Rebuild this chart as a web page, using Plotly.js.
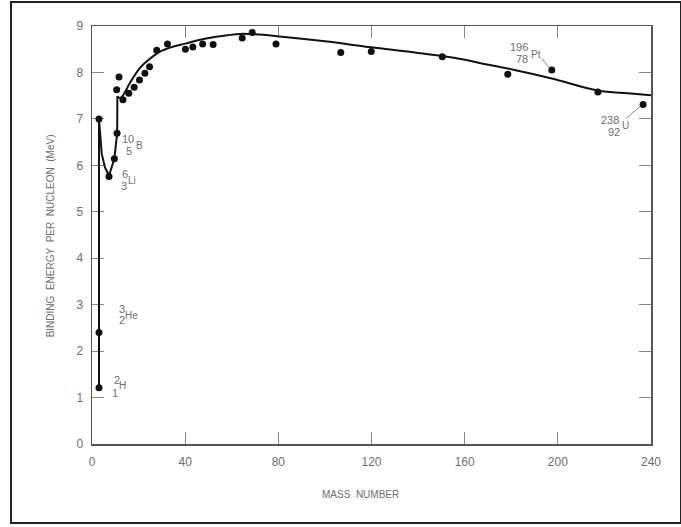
<!DOCTYPE html>
<html>
<head>
<meta charset="utf-8">
<script src="https://cdn.plot.ly/plotly-3.0.1.min.js"></script>
<style>
html,body{margin:0;padding:0;background:#fff;}
#chart{width:681px;height:527px;}
</style>
</head>
<body>
<div id="chart"></div>
<script>
// Measured nuclei (mass number, binding energy per nucleon in MeV)
var massNumber = [3, 3, 3, 7.3, 9.6, 10.75, 10.6, 11.6, 13.3, 15.8, 18.1, 20.4, 22.7, 24.7, 27.8, 32.4, 40.1, 43.3, 47.5, 52.0, 64.5, 68.8, 79.0, 106.8, 119.9, 150.4, 178.5, 197.4, 217.2, 236.6];
var bindingEnergy = [1.21, 2.40, 7.0, 5.76, 6.14, 6.69, 7.63, 7.90, 7.41, 7.55, 7.68, 7.84, 7.98, 8.12, 8.48, 8.61, 8.50, 8.55, 8.61, 8.60, 8.74, 8.86, 8.61, 8.43, 8.45, 8.34, 7.96, 8.05, 7.58, 7.31];

// Trend curve: light-nuclei part (straight pieces)
var lightA = [3, 3, 3.4, 4.2, 5.6, 7.3, 9.6, 10.8, 10.9];
var lightE = [1.2, 7.0, 6.74, 6.24, 5.95, 5.78, 6.14, 6.69, 7.49];
// smooth part
var curveA = [10.9, 12, 13.5, 16, 20.6, 25, 29.2, 35, 40.1, 46, 52, 58, 63.7, 70, 79.4, 100, 119.9, 140, 158.3, 166.9, 180, 197.4, 217.2, 230, 240];
var curveE = [7.49, 7.45, 7.52, 7.75, 8.10, 8.30, 8.45, 8.56, 8.62, 8.70, 8.76, 8.80, 8.83, 8.82, 8.78, 8.67, 8.54, 8.42, 8.29, 8.20, 8.07, 7.87, 7.61, 7.55, 7.51];

// Axis ticks
var xTicks = [0, 40, 80, 120, 160, 200, 240];
var yTicks = [0, 1, 2, 3, 4, 5, 6, 7, 8, 9];

// Nuclide labels
var labelSym  = ['H', 'He', 'Li', 'B', 'Pt', 'U'];
var labelMass = ['2', '3', '6', '10', '196', '238'];
var labelZ    = ['1', '2', '3', '5', '78', '92'];
// label placement (layout only)
var symPos  = [[13.2,1.26],[16.8,2.77],[17.2,5.67],[20.2,6.42],[190.5,8.38],[229.2,6.85]];
var massPos = [[10.6,1.37],[13.0,2.91],[14.3,5.81],[15.4,6.56],[183.4,8.55],[222.5,6.97]];
var zPos    = [[9.9,1.10],[12.8,2.66],[13.9,5.56],[15.9,6.31],[184.8,8.29],[224.2,6.72]];

var grey = '#6e6e6e';
var font = 'Liberation Sans, Arial, sans-serif';

var traces = [
  {x: lightA, y: lightE, mode: 'lines', type: 'scatter',
   line: {color: '#111', width: 2}, hoverinfo: 'skip'},
  {x: curveA, y: curveE, mode: 'lines', type: 'scatter',
   line: {color: '#111', width: 2, shape: 'spline', smoothing: 1}, hoverinfo: 'skip'},
  {x: massNumber, y: bindingEnergy, mode: 'markers', type: 'scatter',
   marker: {color: '#111', size: 7, line: {width: 0}}}
];

var ann = [];
for (var i = 0; i < labelSym.length; i++) {
  ann.push({x: symPos[i][0], y: symPos[i][1], text: labelSym[i], showarrow: false,
            font: {size: 10, color: grey, family: font}, xanchor: 'center', yanchor: 'middle'});
  ann.push({x: massPos[i][0], y: massPos[i][1], text: labelMass[i], showarrow: false,
            font: {size: 11, color: grey, family: font}, xanchor: 'center', yanchor: 'middle'});
  ann.push({x: zPos[i][0], y: zPos[i][1], text: labelZ[i], showarrow: false,
            font: {size: 11, color: grey, family: font}, xanchor: 'center', yanchor: 'middle'});
}
ann.push({xref: 'paper', yref: 'paper', x: -0.075, y: 0.497, textangle: -90,
          xanchor: 'center', yanchor: 'middle',
          text: 'BINDING\u00a0 ENERGY\u00a0 PER\u00a0 NUCLEON\u00a0 (MeV)', showarrow: false,
          font: {size: 10, color: grey, family: font}});
ann.push({xref: 'paper', yref: 'paper', x: (360-92)/559, y: -(494-444)/418,
          xanchor: 'center', yanchor: 'middle',
          text: 'MASS\u00a0 NUMBER', showarrow: false,
          font: {size: 10, color: grey, family: font}});

var layout = {
  width: 681, height: 527,
  margin: {l: 92, r: 30, t: 26, b: 83},
  paper_bgcolor: '#fff', plot_bgcolor: '#fff',
  showlegend: false,
  xaxis: {range: [0, 240], tickvals: xTicks, ticktext: xTicks.map(String),
          showgrid: false, zeroline: false, showline: true, mirror: 'ticks',
          linecolor: '#555', linewidth: 1.5, ticks: 'inside', ticklen: 12, tickcolor: '#888',
          ticklabelstandoff: 6, layer: 'below traces',
          tickfont: {size: 12, color: grey, family: font}},
  yaxis: {range: [0, 9], tickvals: yTicks, ticktext: yTicks.map(String),
          showgrid: false, zeroline: false, showline: true, mirror: 'ticks',
          linecolor: '#555', linewidth: 1.5, ticks: 'inside', ticklen: 12, tickcolor: '#888',
          ticklabelstandoff: 5, layer: 'below traces',
          tickfont: {size: 12, color: grey, family: font}},
  annotations: ann,
  shapes: [
    {type: 'rect', xref: 'paper', yref: 'paper', x0: -(92-11)/559, x1: (681-92)/559,
     y0: -(523-444)/418, y1: (444-2)/418, line: {color: '#222', width: 2}, layer: 'below'},
    {type: 'line', x0: 193.1, y0: 8.30, x1: 196.3, y1: 8.10, line: {color: '#888', width: 1}},
    {type: 'line', x0: 229.5, y0: 7.02, x1: 235.4, y1: 7.27, line: {color: '#888', width: 1}}
  ]
};

Plotly.newPlot('chart', traces, layout, {displayModeBar: false, staticPlot: true});
</script>
</body>
</html>
